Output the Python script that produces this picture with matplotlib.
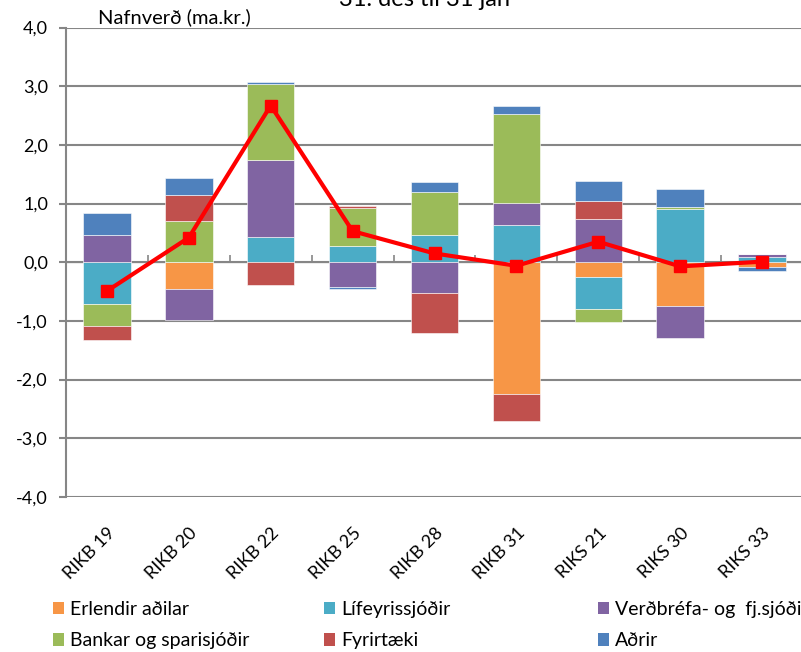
import numpy as np
import matplotlib
matplotlib.use('Agg')
import matplotlib.pyplot as plt
from matplotlib.patches import Patch

plt.rcParams['font.family'] = ['Lato', 'DejaVu Sans']

# data (ma.kr.)
categories = ['RIKB 19', 'RIKB 20', 'RIKB 22', 'RIKB 25', 'RIKB 28',
              'RIKB 31', 'RIKS 21', 'RIKS 30', 'RIKS 33']
erlendir = [0, -0.45, 0, 0, 0, -2.25, -0.25, -0.75, -0.085]
lifeyris = [-0.71, 0, 0.43, 0.28, 0.46, 0.63, -0.54, 0.91, 0.085]
verdbref = [0.46, -0.54, 1.32, -0.42, -0.52, 0.38, 0.74, -0.54, 0.06]
bankar = [-0.38, 0.70, 1.28, 0.65, 0.74, 1.52, -0.23, 0.03, 0]
fyrirtaeki = [-0.24, 0.44, -0.38, 0.03, -0.68, -0.46, 0.30, 0, 0]
adrir = [0.38, 0.30, 0.04, -0.03, 0.17, 0.13, 0.34, 0.30, -0.06]
netto = [-0.49, 0.42, 2.67, 0.53, 0.15, -0.06, 0.35, -0.07, 0.01]

series = [
    ('Erlendir aðilar', erlendir, '#F79646'),
    ('Lífeyrissjóðir', lifeyris, '#4BACC6'),
    ('Verðbréfa- og  fj.sjóði', verdbref, '#8064A2'),
    ('Bankar og sparisjóðir', bankar, '#9BBB59'),
    ('Fyrirtæki', fyrirtaeki, '#C0504D'),
    ('Aðrir', adrir, '#4F81BD'),
]

grid_c = '#868686'

fig = plt.figure(figsize=(8.01, 6.52), dpi=100)
ax = fig.add_axes([66 / 801, 1 - 497 / 652, (803 - 66) / 801, (497 - 27.5) / 652])

x = np.arange(len(categories))
pos_bottom = np.zeros(len(categories))
neg_bottom = np.zeros(len(categories))
for name, vals, col in series:
    v = np.array(vals, dtype=float)
    bottom = np.where(v >= 0, pos_bottom, neg_bottom)
    ax.bar(x, v, 0.58, bottom=bottom, color=col, edgecolor='white',
           linewidth=0.4, zorder=2)
    pos_bottom += np.where(v >= 0, v, 0)
    neg_bottom += np.where(v < 0, v, 0)

ax.plot(x, netto, color='#FF0000', lw=3, marker='s', markersize=9, zorder=4)

ax.set_xlim(-0.5, len(categories) - 0.5)
ax.set_ylim(-4, 4)
ax.set_yticks(np.arange(-4, 4.1, 1))
ax.set_yticklabels([('%.1f' % t).replace('.', ',') for t in np.arange(-4, 4.1, 1)])
ax.yaxis.grid(True, color=grid_c, lw=1.5, zorder=0)
ax.set_axisbelow(True)
ax.tick_params(axis='y', length=5, width=1.5, color=grid_c, labelsize=13, pad=8)

ax.set_xticks(x)
ax.set_xticklabels(categories, rotation=45, ha='right', rotation_mode='anchor', fontsize=13)
ax.tick_params(axis='x', length=0, pad=20)

for s in ['top', 'right', 'bottom']:
    ax.spines[s].set_visible(False)
ax.spines['left'].set_color(grid_c)
ax.spines['left'].set_linewidth(1.5)

# category-boundary ticks on the zero line
sec = ax.secondary_xaxis(0.5)
sec.set_xticks(np.arange(len(categories) + 1) - 0.5)
sec.set_xticklabels([])
sec.tick_params(length=5, width=1.2, color=grid_c)
sec.spines['bottom'].set_color(grid_c)
sec.spines['bottom'].set_linewidth(1.5)

ax.text(0.043, 1.003, 'Nafnverð (ma.kr.)', transform=ax.transAxes, fontsize=14.5,
        va='bottom', ha='left')
fig.text(324 / 801, 1 - 6 / 652, '- 31. des til 31 jan', fontsize=17,
         va='baseline', ha='left')

# legend in three columns
handles = [Patch(facecolor=c, edgecolor='none', label=n) for n, v, c in series]
col_x = [45 / 801, 316 / 801, 590 / 801]
for i in range(3):
    fig.legend(handles=[handles[i], handles[i + 3]], loc='upper left',
               bbox_to_anchor=(col_x[i], 1 - 593 / 652), frameon=False,
               fontsize=14, handlelength=0.6, handleheight=0.6,
               handletextpad=0.3, labelspacing=0.75, borderaxespad=0)

fig.savefig('out.png', dpi=100)
